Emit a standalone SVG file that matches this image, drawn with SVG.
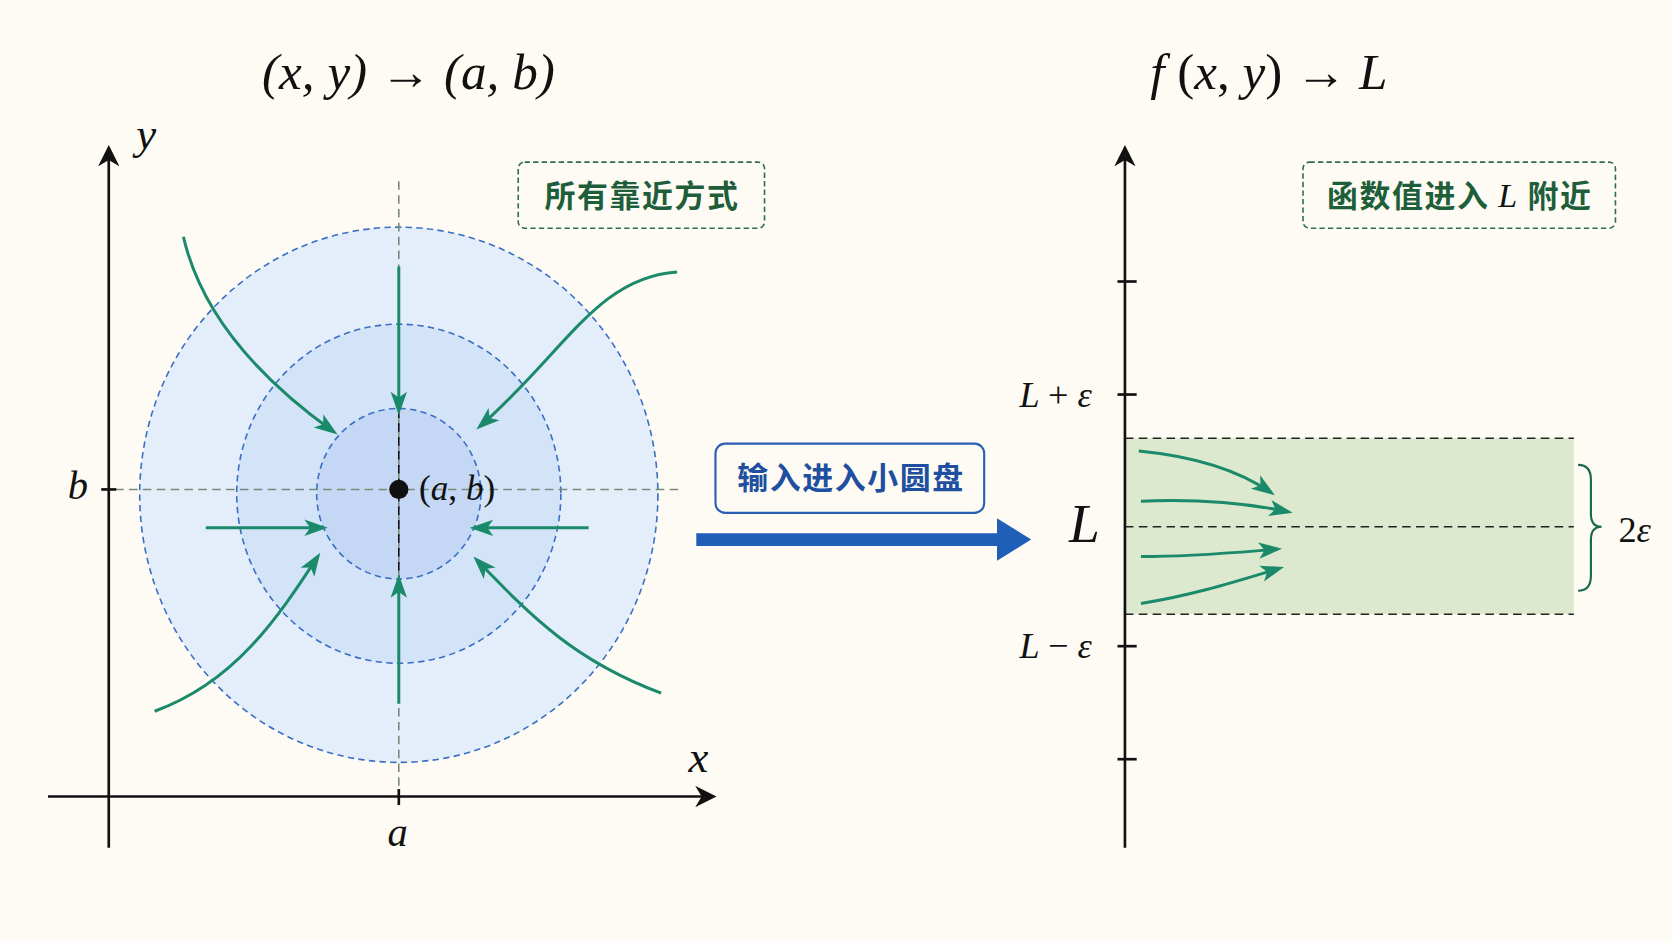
<svg xmlns="http://www.w3.org/2000/svg" width="1672" height="941" viewBox="0 0 1672 941">
<defs>
<marker id="ga" viewBox="0 0 10 10" refX="8" refY="5" markerWidth="22" markerHeight="22" markerUnits="userSpaceOnUse" orient="auto"><path d="M0,1.5 L10,5 L0,8.5 L2.5,5 Z" fill="#1a8a6a"/></marker>
<marker id="ka" viewBox="0 0 10 10" refX="8" refY="5" markerWidth="20" markerHeight="20" markerUnits="userSpaceOnUse" orient="auto"><path d="M0,0 L10,5 L0,10 L3,5 Z" fill="#111"/></marker>
<style>
.m{font-family:"Liberation Serif","DejaVu Serif",serif;font-style:italic;fill:#111}
.g{fill:none;stroke:#1a8a6a;stroke-width:2.8;marker-end:url(#ga)}
.ax{stroke:#111;stroke-width:2.5;fill:none}
.c{stroke:#3a6fc4;stroke-width:1.5;stroke-dasharray:6 4}
.lbl{font-family:"Noto Sans CJK SC","Noto Sans",sans-serif;font-weight:bold;font-size:29px;letter-spacing:1.5px}
</style>
</defs>
<rect width="1672" height="941" fill="#fdfbf3"/>
<g transform="scale(1.0663)">
<g id="titles">
<text class="m" x="383" y="83" font-size="48" text-anchor="middle" font-style="normal">(<tspan font-style="italic">x</tspan>, <tspan font-style="italic">y</tspan>) → (<tspan font-style="italic">a</tspan>, <tspan font-style="italic">b</tspan>)</text>
<text class="m" x="1190" y="83" font-size="48" text-anchor="middle">f <tspan font-style="normal">(</tspan>x<tspan font-style="normal">, </tspan>y<tspan font-style="normal">) → </tspan>L</text>
</g>
<g id="disks">
<ellipse cx="374" cy="464" rx="243" ry="251" fill="#e3eefa" class="c"/>
<ellipse cx="374" cy="463" rx="152" ry="159" fill="#d3e3f8" class="c"/>
<ellipse cx="374" cy="463" rx="77" ry="80" fill="#c4d8f5" class="c"/>
<line x1="374" y1="170" x2="374" y2="745" stroke="#7a8a7a" stroke-width="1.5" stroke-dasharray="8 5"/>
<line x1="95" y1="459" x2="640" y2="459" stroke="#7a8a7a" stroke-width="1.5" stroke-dasharray="8 5"/>
<line x1="374" y1="384" x2="374" y2="542" stroke="#111" stroke-width="1.5" stroke-dasharray="8 5"/>
<circle cx="374" cy="459" r="9" fill="#111"/>
<text class="m" x="393" y="469" font-size="33"><tspan font-style="normal">(</tspan>a<tspan font-style="normal">, </tspan>b<tspan font-style="normal">)</tspan></text>
</g>
<g id="left-axes">
<line class="ax" x1="102" y1="795" x2="102" y2="140" marker-end="url(#ka)"/>
<line class="ax" x1="45" y1="747" x2="668" y2="747" marker-end="url(#ka)"/>
<line class="ax" x1="374" y1="740" x2="374" y2="755"/>
<line class="ax" x1="95" y1="459" x2="109" y2="459"/>
<text class="m" x="137" y="140" font-size="42" text-anchor="middle">y</text>
<text class="m" x="655" y="724" font-size="42" text-anchor="middle">x</text>
<text class="m" x="73" y="468" font-size="38" text-anchor="middle">b</text>
<text class="m" x="373" y="793" font-size="38" text-anchor="middle">a</text>
</g>
<g id="box-all">
<rect x="486" y="152" width="231" height="62" rx="6" fill="none" stroke="#2e6e4a" stroke-width="1.5" stroke-dasharray="5 3"/>
<text class="lbl" x="602" y="194" text-anchor="middle" fill="#1e5e3a">所有靠近方式</text>
</g>
<g id="band">
<rect x="1055" y="411" width="421" height="165" fill="#dde9cf"/>
<line x1="1055" y1="411" x2="1476" y2="411" stroke="#222" stroke-width="1.5" stroke-dasharray="8 5"/>
<line x1="1055" y1="576" x2="1476" y2="576" stroke="#222" stroke-width="1.5" stroke-dasharray="8 5"/>
<line x1="1055" y1="494" x2="1476" y2="494" stroke="#222" stroke-width="1.5" stroke-dasharray="8 5"/>
<path d="M1480,436 Q1492,436 1492,450 L1492,482 Q1492,494 1502,494 Q1492,494 1492,506 L1492,540 Q1492,554 1480,554" fill="none" stroke="#1a6a4a" stroke-width="2"/>
<text class="m" x="1533" y="508" font-size="34" text-anchor="middle"><tspan font-style="normal">2</tspan>ε</text>
</g>
<g id="connectors">
<path class="g" d="M374,250 L374,385"/>
<path class="g" d="M374,660 L374,543"/>
<path class="g" d="M193,495 L303,495"/>
<path class="g" d="M552,495 L445,495"/>
<path class="g" d="M172,222 C190,300 250,360 313,405"/>
<path class="g" d="M635,255 C560,260 530,330 450,400"/>
<path class="g" d="M145,667 C220,640 260,580 298,522"/>
<path class="g" d="M620,650 C540,620 500,580 447,525"/>
<path class="g" d="M1068,423 C1120,428 1160,440 1192,462"/>
<path class="g" d="M1070,470 C1120,468 1170,472 1208,480"/>
<path class="g" d="M1070,522 C1120,522 1160,518 1198,515"/>
<path class="g" d="M1070,566 C1120,558 1160,545 1200,533"/>
<path d="M653,500 L935,500 L935,486 L967,506 L935,526 L935,512 L653,512 Z" fill="#1f5fb8"/>
</g>
<g id="box-input">
<rect x="671" y="416" width="252" height="65" rx="9" fill="#fdfbf3" stroke="#2a5fb4" stroke-width="2"/>
<text class="lbl" x="798" y="459" text-anchor="middle" fill="#1f4fa0">输入进入小圆盘</text>
</g>
<g id="right-axis">
<line class="ax" x1="1055" y1="795" x2="1055" y2="140" marker-end="url(#ka)"/>
<line class="ax" x1="1048" y1="264" x2="1066" y2="264"/>
<line class="ax" x1="1048" y1="370" x2="1066" y2="370"/>
<line class="ax" x1="1048" y1="606" x2="1066" y2="606"/>
<line class="ax" x1="1048" y1="712" x2="1066" y2="712"/>
<text class="m" x="990" y="382" font-size="34" text-anchor="middle">L <tspan font-style="normal">+</tspan> ε</text>
<text class="m" x="990" y="617" font-size="34" text-anchor="middle">L <tspan font-style="normal">−</tspan> ε</text>
<text class="m" x="1017" y="508" font-size="52" text-anchor="middle">L</text>
</g>
<g id="box-L">
<rect x="1222" y="152" width="293" height="62" rx="6" fill="none" stroke="#2e6e4a" stroke-width="1.5" stroke-dasharray="5 3"/>
<text class="lbl" x="1369" y="194" text-anchor="middle" fill="#1e5e3a">函数值进入 <tspan class="m" font-weight="normal" font-size="32" fill="#1e5e3a">L</tspan> 附近</text>
</g>
</g>
</svg>
